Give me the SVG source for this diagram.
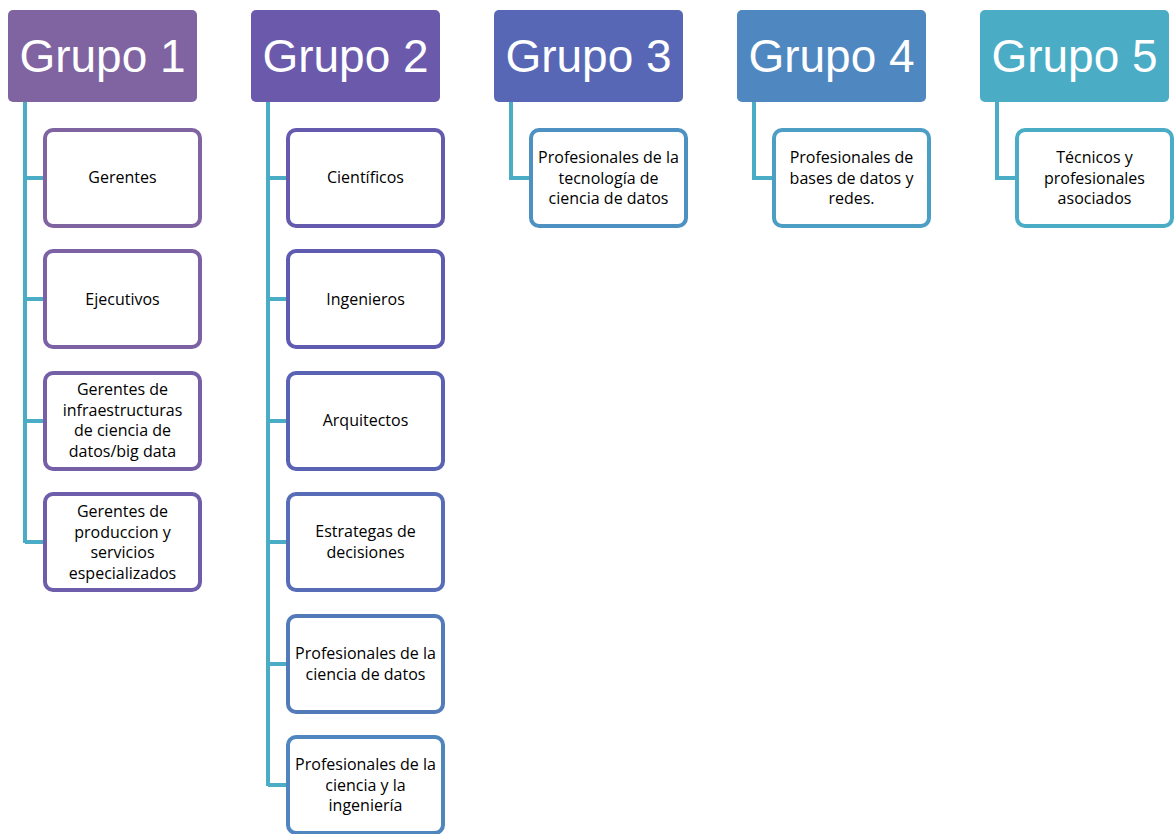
<svg xmlns="http://www.w3.org/2000/svg" width="1175" height="834" viewBox="0 0 1175 834">
<style>
.hdr{stroke:none}
.ht{font-family:"Liberation Sans",Arial,sans-serif;font-size:46px;fill:#fff;text-anchor:middle}
.box{fill:#fff;stroke-width:4}
.bt{font-family:"Open Sans","Liberation Sans",Arial,sans-serif;font-size:16px;fill:#000;text-anchor:middle}
.con{fill:none;stroke:#4BACC6;stroke-width:4}
</style>
<rect width="1175" height="834" fill="#fff"/>
<g id="connectors">
<path class="con" d="M25 102 V543 M25 178 H45 M25 299 H45 M25 421 H45 M25 542 H45"/>
<path class="con" d="M268 102 V786 M268 178 H288 M268 299 H288 M268 421 H288 M268 542 H288 M268 664 H288 M268 785 H288"/>
<path class="con" d="M511 102 V178 H531"/>
<path class="con" d="M754 102 V178 H774"/>
<path class="con" d="M997 102 V178 H1017"/>
</g>
<g id="g1"><rect class="hdr" x="8" y="10" width="189" height="92" rx="5" fill="#8064A2"/><text class="ht" x="102.5" y="72">Grupo 1</text></g>
<g id="g2"><rect class="hdr" x="251" y="10" width="189" height="92" rx="5" fill="#6B5AAC"/><text class="ht" x="345.5" y="72">Grupo 2</text></g>
<g id="g3"><rect class="hdr" x="494" y="10" width="189" height="92" rx="5" fill="#5767B6"/><text class="ht" x="588.5" y="72">Grupo 3</text></g>
<g id="g4"><rect class="hdr" x="737" y="10" width="189" height="92" rx="5" fill="#4F88C0"/><text class="ht" x="831.5" y="72">Grupo 4</text></g>
<g id="g5"><rect class="hdr" x="980" y="10" width="189" height="92" rx="5" fill="#4BACC6"/><text class="ht" x="1074.5" y="72">Grupo 5</text></g>

<g id="n1"><rect class="box" x="45" y="130" width="155" height="96" rx="8" stroke="#8064A2"/><text class="bt" x="122.5" y="183">Gerentes</text></g>
<g id="n2"><rect class="box" x="45" y="251" width="155" height="96" rx="8" stroke="#7C62A5"/><text class="bt" x="122.5" y="305">Ejecutivos</text></g>
<g id="n3"><rect class="box" x="45" y="373" width="155" height="96" rx="8" stroke="#7560A8"/><text class="bt" x="122.5" y="395">Gerentes de<tspan x="122.5" dy="20.5">infraestructuras</tspan><tspan x="122.5" dy="20.5">de ciencia de</tspan><tspan x="122.5" dy="20.5">datos/big data</tspan></text></g>
<g id="n4"><rect class="box" x="45" y="494" width="155" height="96" rx="8" stroke="#6D5DAB"/><text class="bt" x="122.5" y="517">Gerentes de<tspan x="122.5" dy="20.5">produccion y</tspan><tspan x="122.5" dy="20.5">servicios</tspan><tspan x="122.5" dy="20.5">especializados</tspan></text></g>

<g id="n5"><rect class="box" x="288" y="130" width="155" height="96" rx="8" stroke="#645AAE"/><text class="bt" x="365.5" y="183">Científicos</text></g>
<g id="n6"><rect class="box" x="288" y="251" width="155" height="96" rx="8" stroke="#5E5BB1"/><text class="bt" x="365.5" y="305">Ingenieros</text></g>
<g id="n7"><rect class="box" x="288" y="373" width="155" height="96" rx="8" stroke="#5A62B4"/><text class="bt" x="365.5" y="426">Arquitectos</text></g>
<g id="n8"><rect class="box" x="288" y="494" width="155" height="96" rx="8" stroke="#586DB7"/><text class="bt" x="365.5" y="537">Estrategas de<tspan x="365.5" dy="20.5">decisiones</tspan></text></g>
<g id="n9"><rect class="box" x="288" y="616" width="155" height="96" rx="8" stroke="#537BBA"/><text class="bt" x="365.5" y="659">Profesionales de la<tspan x="365.5" dy="20.5">ciencia de datos</tspan></text></g>
<g id="n10"><rect class="box" x="288" y="737" width="155" height="96" rx="8" stroke="#4F86BE"/><text class="bt" x="365.5" y="770">Profesionales de la<tspan x="365.5" dy="20.5">ciencia y la</tspan><tspan x="365.5" dy="20.5">ingeniería</tspan></text></g>

<g id="n11"><rect class="box" x="531" y="130" width="155" height="96" rx="8" stroke="#4D91C2"/><text class="bt" x="608.5" y="163">Profesionales de la<tspan x="608.5" dy="20.5">tecnología de</tspan><tspan x="608.5" dy="20.5">ciencia de datos</tspan></text></g>
<g id="n12"><rect class="box" x="774" y="130" width="155" height="96" rx="8" stroke="#4C9EC4"/><text class="bt" x="851.5" y="163">Profesionales de<tspan x="851.5" dy="20.5">bases de datos y</tspan><tspan x="851.5" dy="20.5">redes.</tspan></text></g>
<g id="n13"><rect class="box" x="1017" y="130" width="155" height="96" rx="8" stroke="#4BACC6"/><text class="bt" x="1094.5" y="163">Técnicos y<tspan x="1094.5" dy="20.5">profesionales</tspan><tspan x="1094.5" dy="20.5">asociados</tspan></text></g>
</svg>
